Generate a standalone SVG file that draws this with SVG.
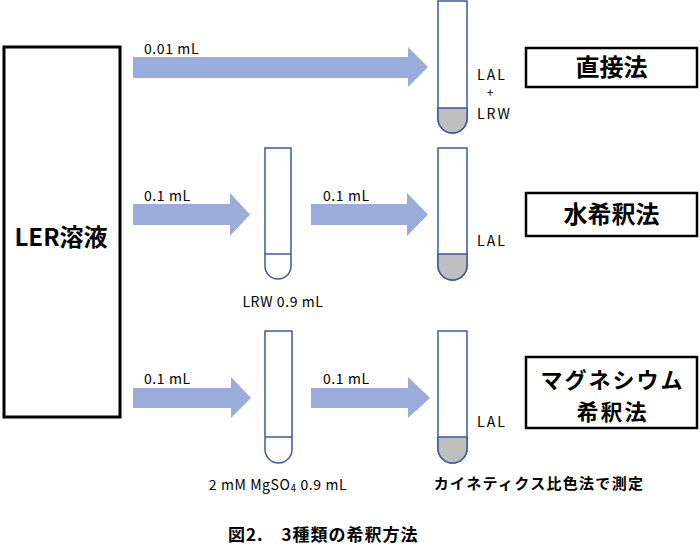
<svg xmlns="http://www.w3.org/2000/svg" width="700" height="554" viewBox="0 0 700 554">
<style>
.t{font-family:"Noto Sans CJK JP","Noto Sans",sans-serif;fill:#000}
.s{font-size:14px;letter-spacing:0.6px}
.m{font-size:14px;letter-spacing:2px}
.b{font-size:24px;font-weight:bold}
.box{fill:#fff;stroke:#000;stroke-width:3}
.tube{fill:#fff;stroke:#3F58A0;stroke-width:1.5}
.liq{fill:#BFBFBF;stroke:#3F58A0;stroke-width:1.5}
.arr{fill:#9AACD9}
</style>
<g id="connectors">
<polygon class="arr" points="133,57 408,57 408,47 428,67 408,87 408,78 133,78"/>
<polygon class="arr" points="133,204 230,204 230,193 250,214.5 230,236 230,225 133,225"/>
<polygon class="arr" points="311,204 407,204 407,193 428,214.5 407,236 407,225 311,225"/>
<polygon class="arr" points="133,388 231,388 231,377 251,398 231,418 231,408 133,408"/>
<polygon class="arr" points="311,388 408,388 408,377 430,398 408,418 408,408 311,408"/>
</g>
<g id="ler">
<rect class="box" x="4" y="47" width="116" height="370"/>
<text class="t" x="61" y="246" text-anchor="middle" font-size="24" font-weight="bold">LER溶液</text>
</g>
<g class="t s" id="labels">
<text x="144" y="54">0.01 mL</text>
<text x="144" y="201">0.1 mL</text>
<text x="323" y="201">0.1 mL</text>
<text x="144" y="384">0.1 mL</text>
<text x="323" y="384">0.1 mL</text>
</g>
<g id="tube1">
<path class="tube" d="M438,1 H467 V118.5 A14.5,14.5 0 0 1 438,118.5 Z"/>
<path class="liq" d="M438,108 H467 V118.5 A14.5,14.5 0 0 1 438,118.5 Z"/>
<text class="t m" x="477" y="80">LAL</text>
<text class="t" x="490" y="97" font-size="12" text-anchor="middle">+</text>
<text class="t m" x="477" y="119">LRW</text>
</g>
<g id="box1">
<rect fill="#fff" stroke="#000" stroke-width="2.5" x="526" y="48" width="171" height="39"/>
<text class="t b" x="611.5" y="76" text-anchor="middle">直接法</text>
</g>
<g id="tube2">
<path class="tube" d="M265,148 H291 V266 A13,13 0 0 1 265,266 Z"/>
<line x1="265" y1="254" x2="291" y2="254" stroke="#3F58A0" stroke-width="1.5"/>
<text class="t s" x="283" y="307" text-anchor="middle" letter-spacing="1.3">LRW 0.9 mL</text>
</g>
<g id="tube3">
<path class="tube" d="M438,148 H467 V265.5 A14.5,14.5 0 0 1 438,265.5 Z"/>
<path class="liq" d="M438,254 H467 V265.5 A14.5,14.5 0 0 1 438,265.5 Z"/>
<text class="t m" x="477" y="246">LAL</text>
</g>
<g id="box2">
<rect fill="#fff" stroke="#000" stroke-width="2.5" x="526" y="193" width="171" height="43"/>
<text class="t b" x="611.5" y="223" text-anchor="middle">水希釈法</text>
</g>
<g id="tube4">
<path class="tube" d="M265,331 H292 V449.5 A13.5,13.5 0 0 1 265,449.5 Z"/>
<line x1="265" y1="437" x2="292" y2="437" stroke="#3F58A0" stroke-width="1.5"/>
<text class="t s" x="278" y="490" text-anchor="middle" letter-spacing="0.9">2 mM MgSO<tspan font-size="10" dy="2">4</tspan><tspan dy="-2"> 0.9 mL</tspan></text>
</g>
<g id="tube5">
<path class="tube" d="M438,331 H467 V448.5 A14.5,14.5 0 0 1 438,448.5 Z"/>
<path class="liq" d="M438,437 H467 V448.5 A14.5,14.5 0 0 1 438,448.5 Z"/>
<text class="t m" x="477" y="427">LAL</text>
<text class="t" x="539" y="489" text-anchor="middle" font-size="15" letter-spacing="1.3" font-weight="bold">カイネティクス比色法で測定</text>
</g>
<g id="box3">
<rect fill="#fff" stroke="#000" stroke-width="2.5" x="526" y="357" width="171" height="71"/>
<text class="t" x="612.5" y="388" text-anchor="middle" font-size="22" font-weight="bold" letter-spacing="2">マグネシウム</text>
<text class="t" x="612.5" y="420" text-anchor="middle" font-size="22" font-weight="bold" letter-spacing="2">希釈法</text>
</g>
<g id="caption">
<text class="t" x="228" y="541" font-size="17" letter-spacing="1" font-weight="bold">図2.　3種類の希釈方法</text>
</g>
</svg>
